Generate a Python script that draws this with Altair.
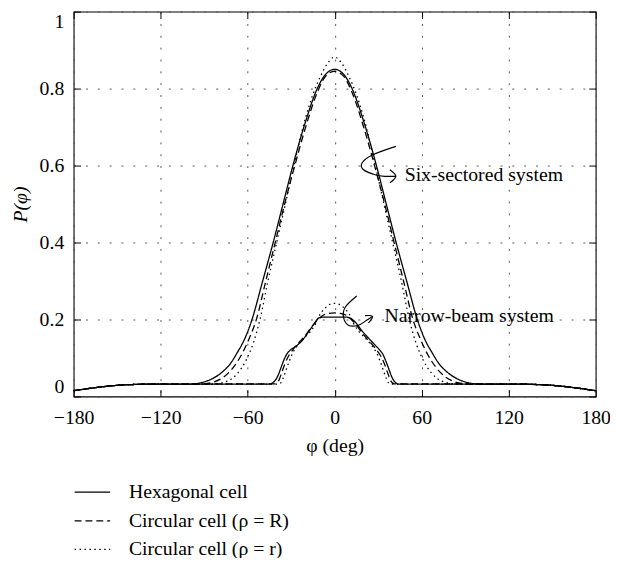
import altair as alt
import pandas as pd

# ---------------- data ----------------
series_names = ["Hexagonal cell", "Circular cell (ρ = R)", "Circular cell (ρ = r)"]
systems = ["Six-sectored", "Narrow-beam"]

floor_left_x = [-180, -165, -150, -140, -130]
floor_left_y = [0.015, 0.023, 0.029, 0.031, 0.032]
floor_right_x = [130, 140, 150, 165, 180]
floor_right_y = [0.032, 0.031, 0.029, 0.023, 0.015]

# Six-sectored system
six_hex_x = [-100, -92, -85, -78, -72, -67, -62, -57, -50, -42.4, -35.6, -28.8, -20, -12, -6, 0,
             6, 12, 20, 28.8, 35.6, 42.4, 50, 57, 62, 67, 72, 78, 85, 92, 100]
six_hex_y = [0.032, 0.036, 0.045, 0.062, 0.085, 0.115, 0.15, 0.20, 0.295, 0.40, 0.50, 0.60, 0.715, 0.80, 0.838, 0.85,
             0.838, 0.80, 0.715, 0.60, 0.50, 0.40, 0.295, 0.20, 0.15, 0.115, 0.085, 0.062, 0.045, 0.036, 0.032]
six_R_x = [-96, -90, -83, -76, -70, -64, -59, -54, -47.5, -41, -34.5, -27.5, -20, -12, -6, 0,
           6, 12, 20, 27.5, 34.5, 41, 47.5, 54, 59, 64, 70, 76, 83, 90, 96]
six_R_y = [0.032, 0.033, 0.038, 0.052, 0.075, 0.11, 0.15, 0.20, 0.30, 0.40, 0.50, 0.60, 0.70, 0.79, 0.833, 0.845,
           0.833, 0.79, 0.70, 0.60, 0.50, 0.40, 0.30, 0.20, 0.15, 0.11, 0.075, 0.052, 0.038, 0.033, 0.032]
six_r_x = [-88, -82, -74, -67, -61, -56, -51.5, -46, -40, -34, -27.5, -20, -15, -10, -5, 0,
           5, 10, 15, 20, 27.5, 34, 40, 46, 51.5, 56, 61, 67, 74, 82, 88]
six_r_y = [0.032, 0.033, 0.04, 0.06, 0.095, 0.14, 0.20, 0.30, 0.40, 0.50, 0.61, 0.725, 0.785, 0.83, 0.865, 0.882,
           0.865, 0.83, 0.785, 0.725, 0.61, 0.50, 0.40, 0.30, 0.20, 0.14, 0.095, 0.06, 0.04, 0.033, 0.032]

# Narrow-beam system
nb_hex_x = [-46, -43.5, -41, -39, -37, -35, -33, -30.5, -27, -23, -18, -14, -11, -8, 0,
            8, 11, 14, 19, 24.5, 28, 31, 33.5, 35.5, 37.5, 39.5, 41.5, 44]
nb_hex_y = [0.032, 0.034, 0.042, 0.055, 0.075, 0.095, 0.11, 0.121, 0.13, 0.143, 0.168, 0.19, 0.204, 0.206, 0.206,
            0.206, 0.203, 0.194, 0.17, 0.147, 0.133, 0.121, 0.108, 0.09, 0.07, 0.05, 0.038, 0.032]
nb_R_x = [-41, -38.5, -36.5, -34.5, -32, -29.5, -27, -24, -20, -16, -12, -8, -4, 0,
          4, 8, 12, 16, 20, 24, 27, 29.5, 32, 34.5, 36.5, 38.5, 41]
nb_R_y = [0.033, 0.042, 0.062, 0.083, 0.104, 0.118, 0.13, 0.143, 0.16, 0.18, 0.198, 0.211, 0.216, 0.217,
          0.216, 0.211, 0.198, 0.18, 0.16, 0.143, 0.13, 0.118, 0.104, 0.083, 0.062, 0.042, 0.033]
nb_r_x = [-39, -37, -35.5, -33.4, -31, -29, -27, -24, -20, -16, -13, -10, -7, -4, 0,
          4, 7, 10, 13, 16, 20, 24, 27, 29, 31, 33.4, 35.5, 37, 39]
nb_r_y = [0.032, 0.036, 0.048, 0.07, 0.095, 0.113, 0.125, 0.14, 0.156, 0.172, 0.19, 0.214, 0.228, 0.238, 0.242,
          0.238, 0.228, 0.214, 0.19, 0.172, 0.156, 0.14, 0.125, 0.113, 0.095, 0.07, 0.048, 0.036, 0.032]

# annotation arrows (in data units) and labels
arrow_six_x = [42.2, 25.6, 18.8, 19.9, 27.9, 34.7, 42.2]
arrow_six_y = [0.650, 0.627, 0.606, 0.589, 0.576, 0.572, 0.572]
head_six_x = [38.1, 42.2, 38.1]
head_six_y = [0.589, 0.572, 0.555]
arrow_nb_x = [15.2, 7.3, 6.1, 9.5, 16.3, 22.0, 26.1]
arrow_nb_y = [0.261, 0.232, 0.206, 0.185, 0.185, 0.198, 0.208]
head_nb_x = [20.9, 26.1, 23.3]
head_nb_y = [0.210, 0.208, 0.191]
label_text = ["Six-sectored system", "Narrow-beam system"]
label_x = [48.3, 34.4]
label_y = [0.575, 0.210]

x_ticks = [-180, -120, -60, 0, 60, 120, 180]
y_ticks = [0, 0.2, 0.4, 0.6, 0.8, 1]

# ---------------- tables ----------------
curves = [
    (series_names[0], systems[0], six_hex_x, six_hex_y),
    (series_names[1], systems[0], six_R_x, six_R_y),
    (series_names[2], systems[0], six_r_x, six_r_y),
    (series_names[0], systems[1], nb_hex_x, nb_hex_y),
    (series_names[1], systems[1], nb_R_x, nb_R_y),
    (series_names[2], systems[1], nb_r_x, nb_r_y),
]
rows = []
for s, sysname, xs, ys in curves:
    fx = floor_left_x + xs + floor_right_x
    fy = floor_left_y + ys + floor_right_y
    for a, b in zip(fx, fy):
        rows.append({"phi": a, "P": b, "series": s, "system": sysname})
df = pd.DataFrame(rows)

arows = []
for name, xs, ys in [("a1", arrow_six_x, arrow_six_y), ("h1", head_six_x, head_six_y),
                     ("a2", arrow_nb_x, arrow_nb_y), ("h2", head_nb_x, head_nb_y)]:
    for i, (a, b) in enumerate(zip(xs, ys)):
        arows.append({"phi": a, "P": b, "path": name, "i": i})
adf = pd.DataFrame(arows)
tdf = pd.DataFrame({"phi": label_x, "P": label_y, "text": label_text})

W, H = 529, 390
FONT = "Liberation Serif"
FS = 20

xscale = alt.Scale(domain=[-180, 180], nice=False, zero=False)
yscale = alt.Scale(domain=[0, 1], nice=False)

lines = alt.Chart(df).mark_line(color="black", strokeWidth=1.3, interpolate="monotone").encode(
    x=alt.X("phi:Q", scale=xscale,
            axis=alt.Axis(values=x_ticks, format="d", title="φ (deg)", grid=True, ticks=False, tickSize=0,
                          domain=False, labelFlush=False, labelPadding=11, titlePadding=9,
                          gridDash=[2, 10], gridColor="#555", gridWidth=1)),
    y=alt.Y("P:Q", scale=yscale,
            axis=alt.Axis(values=y_ticks, format="~g", title="P(φ)", grid=True, ticks=False, tickSize=0,
                          domain=False, labelFlush=True, labelPadding=10, titlePadding=9,
                          titleFontStyle="italic",
                          gridDash=[2, 10], gridColor="#555", gridWidth=1)),
    strokeDash=alt.StrokeDash("series:N",
                              scale=alt.Scale(domain=series_names, range=[[1, 0], [7, 4], [1.5, 3.5]]),
                              legend=alt.Legend(title=None, orient="none", legendX=0, legendY=468,
                                                symbolType="stroke", symbolSize=1296, symbolStrokeWidth=1.3,
                                                symbolStrokeColor="black", labelFont=FONT, labelFontSize=FS,
                                                labelColor="black", labelOffset=18, rowPadding=-7, padding=0,
                                                labelLimit=400)),
    detail="system:N",
)

arrows = alt.Chart(adf).mark_line(color="black", strokeWidth=1.2, interpolate="cardinal").encode(
    x=alt.X("phi:Q", scale=xscale,
            axis=alt.Axis(values=x_ticks, orient="top", offset=-H, labels=False, grid=False, domain=False,
                          ticks=True, tickSize=7, tickColor="black", title=None)),
    y=alt.Y("P:Q", scale=yscale,
            axis=alt.Axis(values=y_ticks, orient="right", offset=-W, labels=False, grid=False, domain=False,
                          ticks=True, tickSize=7, tickColor="black", title=None)),
    detail="path:N",
    order="i:Q",
)

labels = alt.Chart(tdf).mark_text(align="left", baseline="middle", font=FONT, fontSize=FS, color="black").encode(
    x=alt.X("phi:Q", scale=xscale,
            axis=alt.Axis(values=x_ticks, orient="bottom", offset=-H, labels=False, grid=False, domain=False,
                          ticks=True, tickSize=7, tickColor="black", title=None)),
    y=alt.Y("P:Q", scale=yscale,
            axis=alt.Axis(values=y_ticks, orient="left", offset=-W, labels=False, grid=False, domain=False,
                          ticks=True, tickSize=7, tickColor="black", title=None)),
    text="text:N",
)

chart = alt.layer(lines, arrows, labels).resolve_axis(x="independent", y="independent").properties(
    width=W, height=H,
    autosize=alt.AutoSizeParams(type="none"),
    padding={"left": 66.5, "top": 0, "right": 14.5, "bottom": 160},
).configure_view(stroke="black", strokeWidth=1.1).configure_axis(
    labelFont=FONT, labelFontSize=FS, labelColor="black",
    titleFont=FONT, titleFontSize=FS, titleColor="black", titleFontWeight="normal",
)

chart.save("out.html", embed_options={"renderer": "svg", "actions": False})
